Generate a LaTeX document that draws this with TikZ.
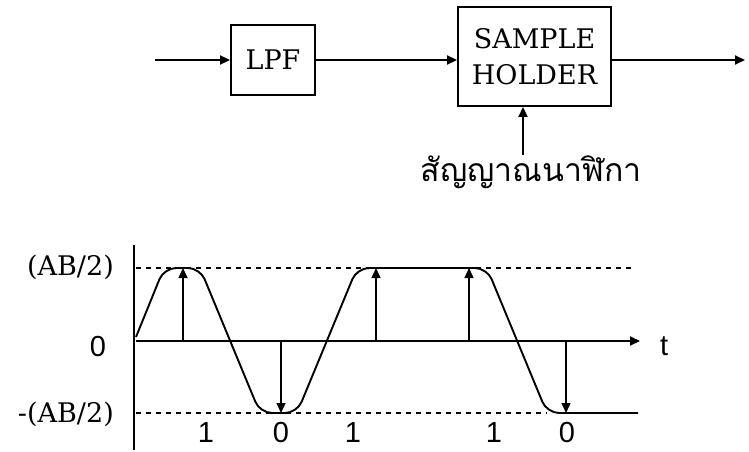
\documentclass[tikz,border=0pt]{standalone}
\usepackage{fontspec}
\usetikzlibrary{arrows.meta}
\newfontfamily\thaifont[Script=Thai]{Loma}
\newfontfamily\boxserif{DejaVu Serif}
\newfontfamily\lblsans{Liberation Sans}
\begin{document}
\begin{tikzpicture}[x=1pt,y=-1pt,
  line/.style={line width=1.9pt},
  thin/.style={line width=1.4pt},
  tip/.style={-{Triangle[length=10pt,width=9pt]}},
  smalltip/.style={-{Triangle[length=10pt,width=9pt]}},
  blockbox/.style={draw,line width=1.9pt,inner sep=0pt,font=\boxserif\fontsize{27}{30}\selectfont},
  axlbl/.style={font=\boxserif\fontsize{27}{30}\selectfont,anchor=east,inner sep=0pt},
  numlbl/.style={font=\lblsans\fontsize{29}{31}\selectfont,inner sep=0pt},
  guide/.style={line width=1.5pt,dash pattern=on 5pt off 5pt}]
\useasboundingbox (0,0) rectangle (749,452);
% ---- block diagram ----
\node[blockbox,minimum width=84pt,minimum height=70pt] (lpf) at (273,60) {LPF};
\node[blockbox,minimum width=153pt,minimum height=99pt,align=center] (sh) at (534.5,56.5)
  {SAMPLE\\[6pt]HOLDER};
\coordinate (in) at (155,60);
\coordinate (out) at (745,60);
\coordinate (clk) at (523,155);
\draw[line,tip] (in) -- (lpf.west);
\draw[line,tip] (lpf.east) -- (lpf.east -| sh.west);
\draw[line,tip] (sh.east |- out) -- (out);
\draw[line,tip] (clk) -- (clk |- sh.south);
\node[font=\thaifont\fontsize{32}{34}\selectfont,inner sep=0pt] (clktxt) at (531,172) {สัญญาณนาฬิกา};
% ---- waveform ----
\coordinate (ytop) at (134,245);
\coordinate (ybot) at (134,450);
\coordinate (o) at (136,341);
\coordinate (tend) at (640,341);
\draw[line] (ytop) -- (ybot);
\draw[line,tip] (o) -- (tend);
\node[numlbl,anchor=west] (tl) at (660,346) {t};
\coordinate (hi0) at (136,268);
\coordinate (hi1) at (633,268);
\coordinate (lo0) at (136,413);
\coordinate (lo1) at (547,413);
\draw[guide] (hi0) -- (hi1);
\draw[guide] (lo0) -- (lo1);
\draw[line,rounded corners=12pt] (136,337) -- (164,268) -- (200,268) -- (260,413) -- (297,413)
  -- (357,268) -- (487,268) -- (547,413) -- (638,413);
% sample arrows
\foreach \n/\x in {a/183,b/376,c/469}{
  \coordinate (\n0) at (\x,341);
  \coordinate (\n1) at (\x,268);
  \draw[thin,smalltip] (\n0) -- (\n1);
}
\foreach \n/\x in {d/281,e/566}{
  \coordinate (\n0) at (\x,341);
  \coordinate (\n1) at (\x,413);
  \draw[thin,smalltip] (\n0) -- (\n1);
}
% labels
\node[axlbl] (lhi) at (114,267) {(AB/2)};
\node[numlbl] (lzero) at (98,347) {0};
\node[axlbl] (llo) at (114,414) {-(AB/2)};
\foreach \n/\x/\t in {b1/206/1,b2/281/0,b3/353/1,b4/494/1,b5/567/0}{
  \node[numlbl] (\n) at (\x,433) {\t};
}
\end{tikzpicture}
\end{document}
